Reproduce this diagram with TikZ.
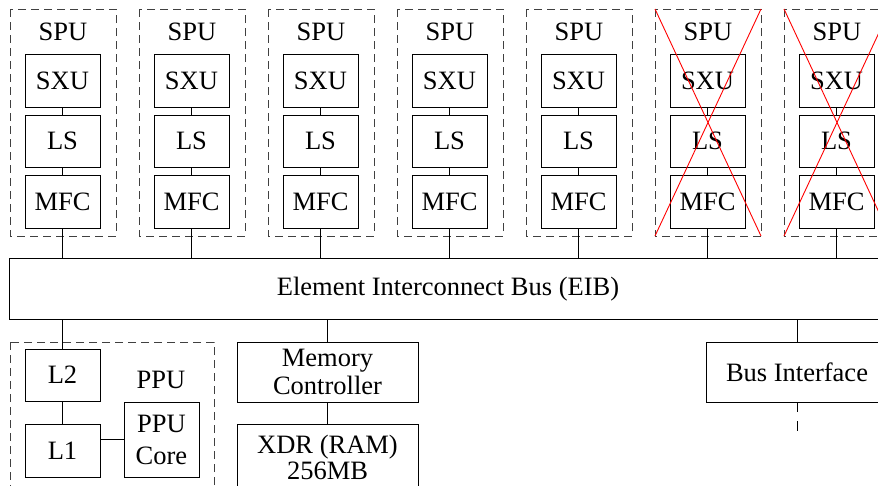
\documentclass[tikz,border=0pt]{standalone}
\usepackage{fontspec}
\setmainfont{Liberation Serif}
\begin{document}
\begin{tikzpicture}[x=1pt,y=-1pt,
  font=\fontsize{26.5}{28}\selectfont,
  unit/.style={draw=black,line width=0.9pt,rectangle,inner sep=0pt,
               align=center,minimum width=75pt},
  group/.style={draw=black!75,line width=0.9pt,dash pattern=on 8pt off 5pt},
  wire/.style={draw=black,line width=0.9pt},
  cross/.style={draw=red,line width=0.9pt}]
  \useasboundingbox (0,0) rectangle (878,485);
  \clip (0,0) rectangle (878,485);

  % Element Interconnect Bus
  \node[unit,minimum width=878pt,minimum height=61pt] (eib) at (448,289)
    {Element Interconnect Bus (EIB)};

  % Synergistic processing units
  \foreach \i in {0,...,6}{
    \pgfmathsetmacro{\X}{10+129*\i}
    \draw[group] (\X,9) rectangle ++(106,227);
    \node (spu\i) at (\X+53,31.5) {SPU};
    \node[unit,minimum height=53pt] (sxu\i) at (\X+52.5,80.5) {SXU};
    \node[unit,minimum height=52pt] (ls\i)  at (\X+52.5,141) {LS};
    \node[unit,minimum height=53pt] (mfc\i) at (\X+52.5,201.5) {MFC};
    \draw[wire] (sxu\i.south) -- (ls\i.north);
    \draw[wire] (ls\i.south) -- (mfc\i.north);
    \draw[wire] (mfc\i.south) -- (mfc\i.south |- eib.north);
  }

  % Disabled units
  \foreach \i in {5,6}{
    \pgfmathsetmacro{\X}{10+129*\i}
    \draw[cross] (\X,9) -- (\X+106,236);
    \draw[cross] (\X+106,9) -- (\X,236);
  }

  % Power processing unit
  \draw[group] (10,342) rectangle (214,500);
  \node (ppu) at (161,380) {PPU};
  \node[unit,minimum height=52pt] (l2) at (62.5,375) {L2};
  \node[unit,minimum height=53pt] (l1) at (62.5,450.5) {L1};
  \node[unit,minimum height=75pt] (core) at (161.5,439.5) {PPU\\[4pt]Core};
  \draw[wire] (l2.north |- eib.south) -- (l2.north);
  \draw[wire] (l2.south) -- (l1.north);
  \draw[wire] (l1.east |- core.west) -- (core.west);

  % Memory
  \node[unit,minimum width=181pt,minimum height=60pt] (mc) at (327.5,372)
    {Memory\\Controller};
  \node[unit,minimum width=181pt,minimum height=66pt] (xdr) at (327.5,457)
    {XDR (RAM)\\[-2pt]256MB};
  \draw[wire] (mc.north |- eib.south) -- (mc.north);
  \draw[wire] (mc.south) -- (xdr.north);

  % Bus interface
  \node[unit,minimum width=182pt,minimum height=60pt] (bif) at (797,372)
    {Bus Interface};
  \coordinate (ext) at (797,432);
  \draw[wire] (bif.north |- eib.south) -- (bif.north);
  \draw[group,draw=black,dash pattern=on 10pt off 9pt] (bif.south) -- (ext);
\end{tikzpicture}
\end{document}
